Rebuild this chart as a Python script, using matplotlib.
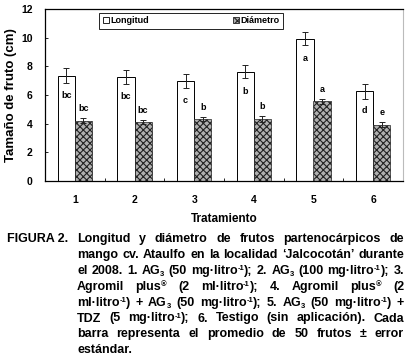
import re
import numpy as np
import matplotlib
matplotlib.use('Agg')
import matplotlib.pyplot as plt
from matplotlib.patches import Patch

plt.rcParams['font.family'] = ['Liberation Sans', 'DejaVu Sans']
plt.rcParams['font.weight'] = 'bold'
plt.rcParams['hatch.linewidth'] = 0.8

# datos
tratamientos = ['1', '2', '3', '4', '5', '6']
longitud = [7.35, 7.28, 6.98, 7.62, 9.92, 6.25]
longitud_err = [0.5, 0.48, 0.46, 0.45, 0.45, 0.5]
diametro = [4.22, 4.12, 4.33, 4.33, 5.55, 3.93]
diametro_err = [0.17, 0.17, 0.17, 0.2, 0.15, 0.17]
letras_long = ['bc', 'bc', 'c', 'b', 'a', 'd']
letras_diam = ['bc', 'bc', 'b', 'b', 'a', 'e']

caption = [
    'Longitud y diámetro de frutos partenocárpicos de',
    'mango cv. Ataulfo en la localidad ‘Jalcocotán’ durante',
    'el 2008. 1. AG_{3} (50 mg·litro^{-1}); 2. AG_{3} (100 mg·litro^{-1}); 3.',
    'Agromil plus^{®} (2 ml·litro^{-1}); 4. Agromil plus^{®} (2',
    'ml·litro^{-1}) + AG_{3} (50 mg·litro^{-1}); 5. AG_{3} (50 mg·litro^{-1}) +',
    'TDZ (5 mg·litro^{-1}); 6. Testigo (sin aplicación). Cada',
    'barra representa el promedio de 50 frutos ± error',
    'estándar.',
]

W, H = 412, 358
fig = plt.figure(figsize=(W / 100, H / 100), dpi=100)
ax = fig.add_axes([45 / W, 1 - 181 / H, 358 / W, 172 / H])

x = np.arange(1, 7)
w = 0.29
ax.bar(x - w / 2, longitud, w, color='white', edgecolor='black', linewidth=0.7,
       yerr=longitud_err, error_kw=dict(elinewidth=0.7, capsize=2.5, capthick=0.7, ecolor='#222'))
ax.bar(x + w / 2, diametro, w, color='#b0b0b0', edgecolor='#222', hatch='xxxxx', linewidth=0.5,
       yerr=diametro_err, error_kw=dict(elinewidth=0.7, capsize=2.5, capthick=0.7, ecolor='#222'))

for i in range(6):
    ax.text(x[i] - w / 2, longitud[i] - 1.35, letras_long[i], ha='center', va='center', fontsize=6.5)
    ax.text(x[i] + w / 2, diametro[i] + diametro_err[i] + 0.65, letras_diam[i],
            ha='center', va='center', fontsize=6.5)

ax.set_xlim(0.5, 6.5)
ax.set_ylim(0, 12)
ax.set_yticks(range(0, 13, 2))
ax.set_xticks(x)
ax.set_xticklabels(tratamientos)
ax.set_xticks(np.arange(1.5, 6.5, 1), minor=True)
ax.tick_params(axis='x', which='major', length=0, labelsize=7.5, pad=10)
ax.tick_params(axis='x', which='minor', direction='in', length=2.5, width=0.6)
ax.tick_params(axis='y', direction='in', length=2.5, width=0.6, labelsize=7.5, pad=9)
for lab in ax.get_xticklabels() + ax.get_yticklabels():
    lab.set_fontweight('bold')
ax.spines['right'].set_color('#bbbbbb')
for s in ['left', 'bottom', 'top']:
    ax.spines[s].set_linewidth(0.9)

ax.set_xlabel('Tratamiento', fontsize=8.5, fontweight='bold', labelpad=6)
ax.set_ylabel('Tamaño de fruto (cm)', fontsize=9.5, fontweight='bold', labelpad=3)

handles = [Patch(facecolor='white', edgecolor='black', linewidth=0.6),
           Patch(facecolor='#b0b0b0', edgecolor='#222', hatch='xxxx', linewidth=0.6)]
leg = ax.legend(handles, ['Longitud', 'Diámetro'], ncol=2, loc='lower left',
                bbox_to_anchor=(0.151, 0.884, 0.514, 0.099), mode='expand',
                fontsize=6.5, handlelength=0.7, handleheight=0.7, handletextpad=0.15,
                borderpad=0.4, fancybox=False, framealpha=1, borderaxespad=0)
leg.get_frame().set_edgecolor('black')
leg.get_frame().set_linewidth(0.6)
for t in leg.get_texts():
    t.set_fontweight('bold')

# leyenda de la figura, justificada (sub/superindices como textos chicos)
renderer = fig.canvas.get_renderer()
left, right = 77, 404
fs, fs_small = 9, 5.5
shift = {'n': 0, '^': 3.8, '_': -2.5}


def make_word(word, yb):
    parts = re.split(r'([\^_]\{[^}]*\})', word)
    segs = []
    for p in parts:
        if not p:
            continue
        if p[0] in '^_' and p[1:2] == '{':
            kind, txt, size = p[0], p[2:-1], fs_small
        else:
            kind, txt, size = 'n', p, fs
        t = fig.text(0, yb + shift[kind] / H, txt, fontsize=size, fontweight='bold', va='baseline')
        segs.append((t, t.get_window_extent(renderer).width))
    return segs


def place(segs, pos):
    for t, wdt in segs:
        t.set_x(pos / W)
        pos += wdt
    return pos


fig.text(7 / W, 1 - 242 / H, 'FIGURA 2.', fontsize=fs, fontweight='bold', va='baseline')
for i, line in enumerate(caption):
    yb = 1 - (242 + i * 15.9) / H
    words = [make_word(wd, yb) for wd in line.split(' ')]
    widths = [sum(s[1] for s in wd) for wd in words]
    if i == len(caption) - 1:
        gap = 3.5
    else:
        gap = (right - left - sum(widths)) / (len(words) - 1)
    pos = left
    for wd in words:
        pos = place(wd, pos) + gap

fig.savefig('out.png', dpi=100)
